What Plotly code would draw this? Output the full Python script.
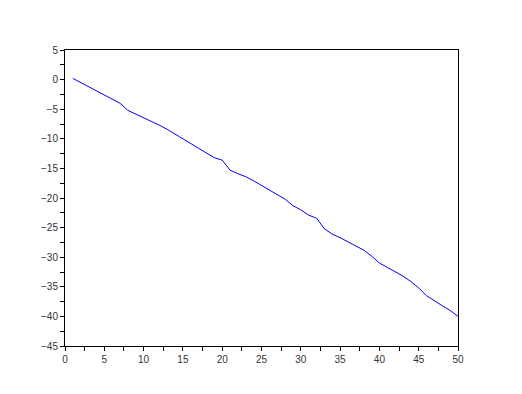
import plotly.graph_objects as go

x_vals = list(range(1, 51))
y_vals = [0.2, -0.5, -1.2, -1.9, -2.6, -3.3, -4.0, -5.2, -5.8, -6.4,
          -7.0, -7.7, -8.4, -9.2, -10.0, -10.8, -11.6, -12.3, -13.2, -13.6,
          -15.3, -15.9, -16.4, -17.1, -17.9, -18.7, -19.5, -20.2, -21.3, -22.0,
          -22.9, -23.4, -25.2, -26.1, -26.7, -27.4, -28.0, -28.8, -29.8, -31.0,
          -31.7, -32.4, -33.2, -34.1, -35.2, -36.5, -37.4, -38.2, -39.0, -40.0]

fig = go.Figure()
fig.add_trace(go.Scatter(x=x_vals, y=y_vals, mode="lines",
                         line=dict(color="rgb(0,0,255)", width=1),
                         showlegend=False))

axis_common = dict(
    showgrid=False, zeroline=False, showline=True, linecolor="black", linewidth=1,
    mirror=True, ticks="outside", ticklen=4, tickcolor="black", tickwidth=1,
    tickfont=dict(family="Liberation Sans, Arial, sans-serif", size=10, color="#333333"),
)

fig.update_xaxes(range=[0, 50], tick0=0, dtick=5,
                 minor=dict(ticks="outside", ticklen=4, dtick=2.5, tick0=0, tickcolor="black"),
                 **axis_common)
fig.update_yaxes(range=[-45, 5], tick0=-45, dtick=5,
                 minor=dict(ticks="outside", ticklen=4, dtick=2.5, tick0=-45, tickcolor="black"),
                 **axis_common)

fig.update_layout(width=522, height=394,
                  margin=dict(l=65, r=64, t=50, b=48),
                  paper_bgcolor="white", plot_bgcolor="white")

fig.write_html("out.html")
